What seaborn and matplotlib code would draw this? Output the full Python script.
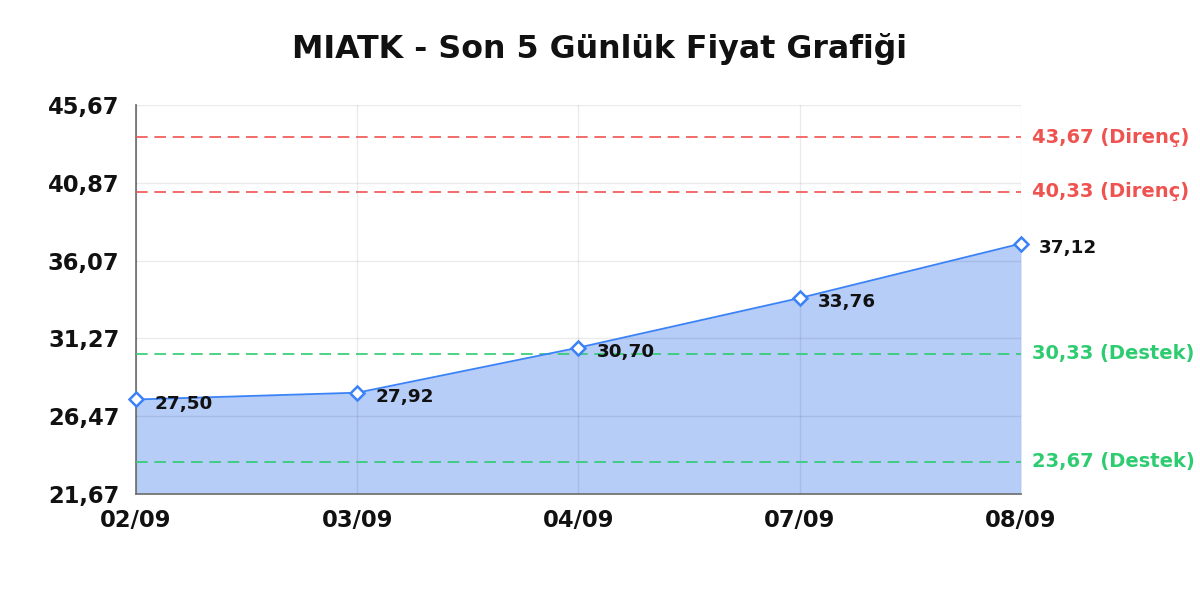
import matplotlib
matplotlib.use("Agg")
import matplotlib.pyplot as plt
import seaborn as sns
import pandas as pd

dates = ["02/09", "03/09", "04/09", "07/09", "08/09"]
prices = [27.50, 27.92, 30.70, 33.76, 37.12]
resistance = [43.67, 40.33]
support = [30.33, 23.67]
yticks = [21.67, 26.47, 31.27, 36.07, 40.87, 45.67]
title = "MIATK - Son 5 Günlük Fiyat Grafiği"

sns.set_style("white")
plt.rcParams['font.family'] = ['DejaVu Sans']

def tr(v):
    return f"{v:.2f}".replace(".", ",")

df = pd.DataFrame({"x": range(len(dates)), "price": prices})

fig = plt.figure(figsize=(12, 6), dpi=100)
ax = fig.add_axes([0.1133, 0.1767, 0.7375, 0.6483])
ax.set_axisbelow(False)

line_c = "#3b82f6"
ax.fill_between(df["x"], df["price"], yticks[0], color="#b6cdf8", zorder=1, linewidth=0)
sns.lineplot(data=df, x="x", y="price", ax=ax, color=line_c, linewidth=1.3,
             marker="D", markersize=7, markerfacecolor="white",
             markeredgecolor=line_c, markeredgewidth=1.8, zorder=4, clip_on=False)

red = "#ef5350"
green = "#2ecc71"
for r in resistance:
    ax.axhline(r, color=red, linestyle=(0, (7, 4)), linewidth=1.2, zorder=3)
    ax.text(1.013, r, f"{tr(r)} (Direnç)", transform=ax.get_yaxis_transform(),
            color=red, fontsize=14, fontweight="bold", va="center", ha="left")
for s in support:
    ax.axhline(s, color=green, linestyle=(0, (7, 4)), linewidth=1.2, zorder=3)
    ax.text(1.013, s, f"{tr(s)} (Destek)", transform=ax.get_yaxis_transform(),
            color=green, fontsize=14, fontweight="bold", va="center", ha="left")

for xi, p in zip(df["x"], df["price"]):
    ax.annotate(tr(p), (xi, p), xytext=(13, -3), textcoords="offset points",
                fontsize=13.2, fontweight="bold", color="#111111", va="center", ha="left",
                zorder=5)

ax.set_xlim(0, len(dates) - 1)
ax.set_ylim(yticks[0], yticks[-1])
ax.set_xticks(range(len(dates)))
ax.set_xticklabels(dates)
ax.set_yticks(yticks)
ax.set_yticklabels([tr(v) for v in yticks])
ax.tick_params(axis="both", length=0, labelsize=16.3)
for lab in ax.get_xticklabels() + ax.get_yticklabels():
    lab.set_fontweight("bold")
    lab.set_color("#111111")
ax.tick_params(axis="x", pad=11)
ax.tick_params(axis="y", pad=12)

ax.grid(True, color="#000000", alpha=0.08, linewidth=1, zorder=2)
ax.set_xlabel("")
ax.set_ylabel("")
for side in ["top", "right"]:
    ax.spines[side].set_visible(False)
ax.spines["left"].set_color("#777777")
ax.spines["bottom"].set_color("#777777")
ax.spines["left"].set_linewidth(1.3)
ax.spines["bottom"].set_linewidth(1.3)

fig.suptitle(title, fontsize=22.8, fontweight="bold", y=0.945, color="#111111")
fig.savefig("out.png", dpi=100, facecolor="white")
